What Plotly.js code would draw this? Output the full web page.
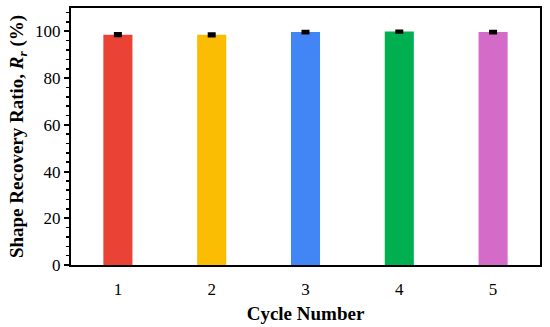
<!DOCTYPE html>
<html>
<head>
<meta charset="utf-8">
<script src="https://cdn.plot.ly/plotly-3.0.1.min.js"></script>
<style>html,body{margin:0;padding:0;background:#fff;}#chart{width:550px;height:327px;}</style>
</head>
<body>
<div id="chart"></div>
<script>
const cycles = [1, 2, 3, 4, 5];
const recoveryRatio = [98.6, 98.5, 99.7, 99.9, 99.7];
const errorValues = [0.5, 0.5, 0.4, 0.3, 0.4];
const barColors = ['#EA4335', '#FBBC04', '#4285F4', '#00B050', '#D56BC9'];
const yTicks = [0, 20, 40, 60, 80, 100];

const font = 'Liberation Serif, DejaVu Serif, serif';

Plotly.newPlot('chart', [{
  type: 'bar',
  x: cycles,
  y: recoveryRatio,
  width: 0.31,
  marker: {color: barColors, line: {width: 0}},
  error_y: {type: 'data', array: errorValues, visible: true, color: '#000', thickness: 3, width: 4}
}], {
  width: 550, height: 327,
  margin: {l: 71, r: 10, t: 8, b: 62},
  paper_bgcolor: '#fff', plot_bgcolor: '#fff',
  showlegend: false,
  font: {family: font, color: '#000', size: 17},
  xaxis: {
    range: [0.5, 5.5],
    tickvals: cycles,
    ticktext: cycles.map(String),
    showline: true, mirror: true, linecolor: '#000', linewidth: 2,
    ticks: '', showgrid: false, zeroline: false,
    ticklabelstandoff: 8,
    tickfont: {size: 17, family: font},
    title: {text: '<b>Cycle Number</b>', font: {size: 19, family: font}, standoff: 8}
  },
  yaxis: {
    range: [0, 110],
    tickvals: yTicks,
    showline: true, mirror: true, linecolor: '#000', linewidth: 2,
    ticks: 'outside', ticklen: 5, tickwidth: 2, tickcolor: '#000',
    minor: {dtick: 4, ticks: 'outside', ticklen: 3, tickwidth: 1.5, tickcolor: '#000'},
    showgrid: false, zeroline: false,
    tickfont: {size: 17, family: font},
    title: {text: '<b>Shape Recovery Ratio, <i>R<sub>r</sub></i> (%)</b>', font: {size: 19, family: font}, standoff: 6}
  }
}, {displayModeBar: false, staticPlot: true});
</script>
</body>
</html>
